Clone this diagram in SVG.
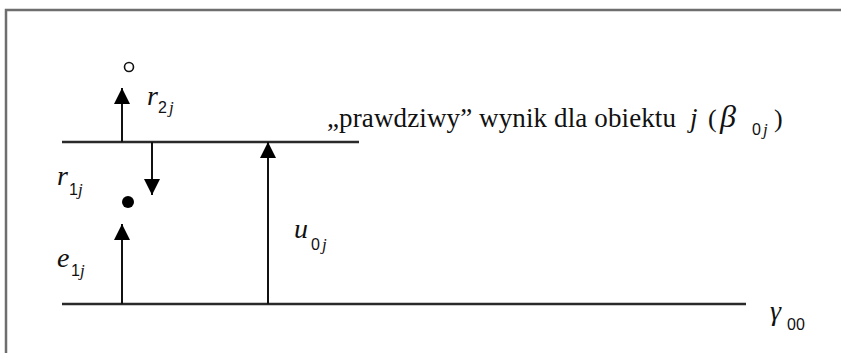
<svg xmlns="http://www.w3.org/2000/svg" width="841" height="353" viewBox="0 0 841 353">
<defs>
<marker id="ah" markerUnits="userSpaceOnUse" markerWidth="16" markerHeight="16" viewBox="0 0 16 16" refX="16" refY="8" orient="auto">
<path d="M0,0 L16,8 L0,16 z" fill="#000"/>
</marker>
</defs>
<rect width="841" height="353" fill="#fff"/>
<path d="M6,353 V10 H841" fill="none" stroke="#6e6e6e" stroke-width="2.5"/>
<g id="levels" stroke="#2a2a2a" stroke-width="2.5">
<line x1="62" y1="142" x2="359" y2="142"/>
<line x1="62" y1="304" x2="746" y2="304"/>
</g>
<g id="connectors" stroke="#111" stroke-width="2" fill="none">
<line x1="122" y1="142" x2="122" y2="88" marker-end="url(#ah)"/>
<line x1="152" y1="142" x2="152" y2="195" marker-end="url(#ah)"/>
<line x1="122" y1="304" x2="122" y2="224" marker-end="url(#ah)"/>
<line x1="268" y1="304" x2="268" y2="142" marker-end="url(#ah)"/>
</g>
<g id="open-point"><circle cx="129" cy="67" r="4.5" fill="none" stroke="#111" stroke-width="1.6"/></g>
<g id="filled-point"><circle cx="128" cy="202" r="6" fill="#000"/></g>
<g id="label-r2j" fill="#111">
<text x="147" y="105" font-size="28" font-style="italic" font-family="Liberation Serif">r</text>
<text x="158" y="113" font-size="16" font-family="Liberation Sans">2</text>
<text x="169" y="113" font-size="17" font-style="italic" font-family="Liberation Serif">j</text>
</g>
<g id="label-r1j" fill="#111">
<text x="57" y="185" font-size="28" font-style="italic" font-family="Liberation Serif">r</text>
<text x="69" y="195" font-size="16" font-family="Liberation Sans">1</text>
<text x="78" y="195" font-size="17" font-style="italic" font-family="Liberation Serif">j</text>
</g>
<g id="label-e1j" fill="#111">
<text x="57" y="267" font-size="28" font-style="italic" font-family="Liberation Serif">e</text>
<text x="71" y="276" font-size="16" font-family="Liberation Sans">1</text>
<text x="80" y="276" font-size="17" font-style="italic" font-family="Liberation Serif">j</text>
</g>
<g id="label-u0j" fill="#111">
<text x="294" y="238" font-size="28" font-style="italic" font-family="Liberation Serif">u</text>
<text x="311" y="250" font-size="16" font-family="Liberation Sans">0</text>
<text x="322" y="250" font-size="17" font-style="italic" font-family="Liberation Serif">j</text>
</g>
<g id="label-gamma" fill="#111">
<text x="770" y="320" font-size="28" font-style="italic" font-family="Liberation Serif">γ</text>
<text x="787" y="330" font-size="16" font-family="Liberation Sans">00</text>
</g>
<g id="label-true-score" fill="#111">
<text x="327" y="127" font-size="27" textLength="349" lengthAdjust="spacing" font-family="Liberation Serif">„prawdziwy” wynik dla obiektu</text>
<text x="690" y="127" font-size="27" font-style="italic" font-family="Liberation Serif">j</text>
<text x="708" y="127" font-size="26" font-family="Liberation Serif">(</text>
<text x="720" y="127" font-size="32" font-style="italic" font-family="Liberation Serif">β</text>
<text x="752" y="135" font-size="16" font-family="Liberation Sans">0</text>
<text x="763" y="135" font-size="17" font-style="italic" font-family="Liberation Serif">j</text>
<text x="774" y="127" font-size="26" font-family="Liberation Serif">)</text>
</g>
</svg>
